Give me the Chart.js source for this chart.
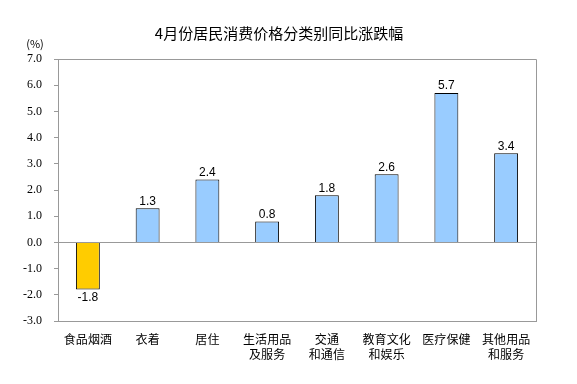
<!DOCTYPE html>
<html>
<head>
<meta charset="utf-8">
<script src="https://cdn.jsdelivr.net/npm/chart.js@4/dist/chart.umd.min.js"></script>
<style>
  body { margin: 0; background: #fff; }
  canvas { display: block; }
</style>
</head>
<body>
<canvas id="cpiChart" width="577" height="384"></canvas>
<script>
const categories = [
  ["食品烟酒"],
  ["衣着"],
  ["居住"],
  ["生活用品", "及服务"],
  ["交通", "和通信"],
  ["教育文化", "和娱乐"],
  ["医疗保健"],
  ["其他用品", "和服务"],
];
const values = [-1.8, 1.3, 2.4, 0.8, 1.8, 2.6, 5.7, 3.4];
const yMin = -3;
const yMax = 7;
const titleText = "4月份居民消费价格分类别同比涨跌幅";
const unitText = "(%)";

// yellow for falling, blue for rising
const barColors = values.map((v) => (v < 0 ? "#ffcc00" : "#99ccff"));

// frame, zero line, value labels and title
const extras = {
  id: "extras",
  beforeDatasetsDraw(chart) {
    const { ctx, chartArea, scales } = chart;
    const y0 = Math.round(scales.y.getPixelForValue(0)) + 0.5;
    ctx.save();
    ctx.strokeStyle = "#999";
    ctx.lineWidth = 1;
    ctx.beginPath();
    ctx.moveTo(chartArea.left, Math.round(chartArea.top) + 0.5);
    ctx.lineTo(Math.round(chartArea.right) + 0.5, Math.round(chartArea.top) + 0.5);
    ctx.lineTo(Math.round(chartArea.right) + 0.5, chartArea.bottom);
    ctx.moveTo(chartArea.left, y0);
    ctx.lineTo(chartArea.right, y0);
    ctx.stroke();
    ctx.restore();
  },
  afterDatasetsDraw(chart) {
    const { ctx } = chart;
    const meta = chart.getDatasetMeta(0);
    ctx.save();
    ctx.fillStyle = "#000";
    ctx.font = "12px 'Liberation Sans', Arial, sans-serif";
    ctx.textAlign = "center";
    meta.data.forEach((bar, i) => {
      const v = values[i];
      if (v >= 0) {
        ctx.textBaseline = "bottom";
        ctx.fillText(v.toFixed(1), bar.x, bar.y - 1);
      } else {
        ctx.textBaseline = "top";
        ctx.fillText(v.toFixed(1), bar.x, bar.y + 2);
      }
    });

    ctx.font = "15px 'Noto Sans CJK SC', sans-serif";
    ctx.textBaseline = "middle";
    ctx.fillText(titleText, 279, 33);

    ctx.font = "11px 'Noto Sans CJK SC', sans-serif";
    ctx.fillText(unitText, 35, 44);
    ctx.restore();
  },
};

const cpiChart = new Chart(document.getElementById("cpiChart"), {
  type: "bar",
  data: {
    labels: categories,
    datasets: [
      {
        data: values,
        backgroundColor: barColors,
        borderColor: "#000",
        borderWidth: 1,
        barPercentage: 0.4,
        categoryPercentage: 1,
      },
    ],
  },
  options: {
    responsive: false,
    animation: false,
    layout: {
      padding: { top: 59, right: 41, left: 0, bottom: 0 },
    },
    plugins: {
      legend: { display: false },
      tooltip: { enabled: false },
    },
    scales: {
      x: {
        grid: { display: false },
        border: { color: "#999" },
        ticks: {
          color: "#000",
          font: { family: "'Noto Sans CJK SC'", size: 12, lineHeight: 1.25 },
          padding: 3,
          maxRotation: 0,
          autoSkip: false,
        },
        afterFit(scale) {
          scale.height = 63;
        },
      },
      y: {
        min: yMin,
        max: yMax,
        grid: {
          drawOnChartArea: false,
          tickLength: 4,
          color: "#999",
        },
        border: { color: "#999" },
        ticks: {
          stepSize: 1,
          color: "#000",
          font: { family: "'Liberation Serif'", size: 12 },
          padding: 12,
          callback: function (value) {
            return value.toFixed(1);
          },
        },
        afterFit(scale) {
          scale.width = 58;
        },
      },
    },
  },
  plugins: [extras],
});
</script>
</body>
</html>
